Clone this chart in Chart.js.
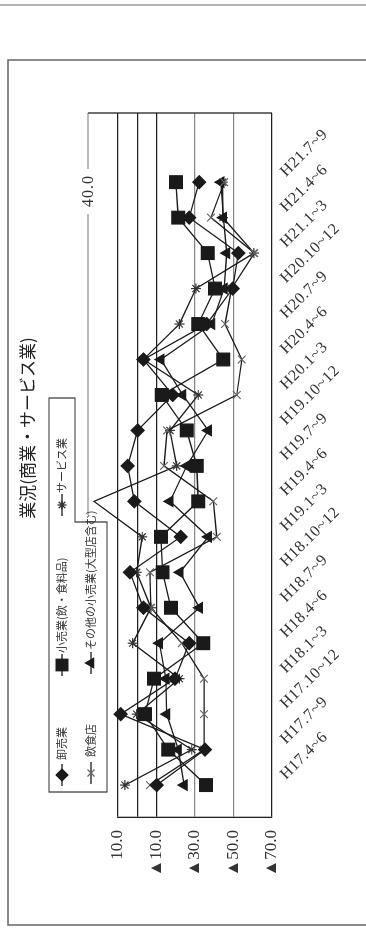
<!DOCTYPE html>
<html>
<head>
<meta charset="utf-8">
<script src="https://cdn.jsdelivr.net/npm/chart.js@4.4.1/dist/chart.umd.min.js"></script>
<style>
html, body { margin: 0; padding: 0; background: #fff; overflow: hidden; }
#wrap {
    position: absolute; left: 0; top: 0;
    width: 928px; height: 366px;
    transform-origin: 0 0;
    transform: translate(0, 928px) rotate(-90deg);
}
</style>
</head>
<body>
<div id="wrap"><canvas id="chart" width="928" height="366"></canvas></div>
<script>
// quarters (Heisei year.month range)
const quarters = ['H17.4~6', 'H17.7~9', 'H17.10~12', 'H18.1~3', 'H18.4~6', 'H18.7~9',
    'H18.10~12', 'H19.1~3', 'H19.4~6', 'H19.7~9', 'H19.10~12', 'H20.1~3',
    'H20.4~6', 'H20.7~9', 'H20.10~12', 'H21.1~3', 'H21.4~6', 'H21.7~9'];

// DI values per series
const wholesale   = [-10.1, -35.2, 8.6, -19.6, -27.0, -3.2, 3.8, -22.6, 1.5, 5.0, -0.2, -18.4, -3.2, -36.1, -49.6, -52.5, -27.0, -32.2];
const foodRetail  = [-35.7, -16.1, -4.0, -8.7, -34.3, -17.5, -13.2, -12.3, -31.7, -30.9, -25.7, -12.7, -44.7, -31.7, -40.4, -36.6, -21.3, -20.1];
const restaurants = [-6.6, -34.7, -34.7, -34.7, -23.1, -7.1, -6.6, -41.3, -39.5, -13.9, -15.5, -51.7, -54.3, -45.6, -49.0, -60.8, -38.3, -45.2];
const otherRetail = [-24.3, -21.3, -15.3, -14.9, -11.5, -32.3, -22.2, -36.9, -17.0, -25.7, -36.9, -23.6, -12.3, -38.7, -45.1, -46.5, -44.7, -43.5];
const services    = [6.4, -28.3, 0.3, -21.9, 2.4, -7.1, 0.3, -2.6, 22.5, -20.5, -17.0, -31.7, -3.2, -21.9, -30.5, -60.6, -44.5, -44.4];

const yTicks = [10, 0, -10, -30, -50, -70];

const SERIF = '"Liberation Serif", "DejaVu Serif", serif';
const JP = '"Noto Sans CJK JP", sans-serif';

function makeSet(label, values, style, radius, color) {
    return {
        label: label,
        data: values.map((v, i) => ({ x: i, y: v })),
        borderColor: '#1a1a1a',
        borderWidth: 1.3,
        pointStyle: style,
        pointRadius: radius,
        pointBackgroundColor: color,
        pointBorderColor: color,
        pointBorderWidth: 1.2,
        clip: false,
        tension: 0
    };
}

const datasets = [
    makeSet('卸売業', wholesale, 'rectRot', 6.5, '#1a1a1a'),
    makeSet('小売業(飲・食料品)', foodRetail, 'rect', 9, '#1a1a1a'),
    makeSet('飲食店', restaurants, 'crossRot', 5.5, '#666'),
    makeSet('その他の小売業(大型店含む)', otherRetail, 'triangle', 6, '#1a1a1a'),
    makeSet('サービス業', services, 'star', 5, '#333')
];

// legend layout: [dataset index, marker x, row y, text x]
const legendItems = [[0, 153, 62, 168], [1, 263, 62, 275], [4, 423, 62, 435],
    [2, 155, 91, 171], [3, 265, 91, 278]];

function pt(ctx, style, r, x, y) {
    if (Chart.helpers && Chart.helpers.drawPoint) {
        Chart.helpers.drawPoint(ctx, { pointStyle: style, radius: r, rotation: 0, borderWidth: 1.2 }, x, y);
    }
}

const decor = {
    id: 'decor',
    beforeDatasetsDraw(chart) {
        const ctx = chart.ctx, ca = chart.chartArea;
        ctx.save();
        // outer frame
        ctx.strokeStyle = '#666';
        ctx.lineWidth = 1.5;
        ctx.beginPath();
        ctx.moveTo(3, 366); ctx.lineTo(3, 8); ctx.lineTo(868, 8); ctx.lineTo(868, 366);
        ctx.stroke();
        ctx.strokeStyle = '#999';
        ctx.beginPath(); ctx.moveTo(923, 0); ctx.lineTo(923, 366); ctx.stroke();

        // right edge of plot box + the stray 40.0 line
        const topY = ca.top - 30;
        ctx.strokeStyle = '#222';
        ctx.lineWidth = 1.3;
        ctx.beginPath();
        ctx.moveTo(ca.right, ca.bottom); ctx.lineTo(ca.right, topY);
        ctx.stroke();
        ctx.strokeStyle = '#777';
        ctx.lineWidth = 1.2;
        ctx.beginPath();
        ctx.moveTo(ca.right, topY); ctx.lineTo(ca.right - 56, topY);
        ctx.moveTo(ca.right - 101, topY); ctx.lineTo(ca.left + 302, topY);
        ctx.stroke();
        ctx.fillStyle = '#333';
        ctx.font = '16px ' + SERIF;
        ctx.letterSpacing = '1px';
        ctx.textAlign = 'center';
        ctx.textBaseline = 'middle';
        ctx.fillText('40.0', ca.right - 78, topY + 1);
        ctx.restore();
    },
    afterDraw(chart) {
        const ctx = chart.ctx, ca = chart.chartArea, xs = chart.scales.x;
        ctx.save();
        // category labels, slanted down-right
        ctx.fillStyle = '#333';
        ctx.font = '16px ' + SERIF;
        ctx.letterSpacing = '0.5px';
        ctx.textAlign = 'left';
        ctx.textBaseline = 'middle';
        quarters.forEach((q, i) => {
            ctx.save();
            ctx.translate(xs.getPixelForValue(i) + 8, ca.bottom + 11);
            ctx.rotate(Math.PI / 4);
            ctx.fillText(q, 0, 0);
            ctx.restore();
        });
        ctx.letterSpacing = '0px';

        // title
        ctx.font = '17px ' + JP;
        ctx.textAlign = 'center';
        ctx.fillStyle = '#222';
        ctx.fillText('業況(商業・サービス業)', 500, 28);

        // legend box
        ctx.strokeStyle = '#333';
        ctx.lineWidth = 1.2;
        ctx.beginPath();
        ctx.moveTo(136, 49); ctx.lineTo(530, 49); ctx.lineTo(530, 75);
        ctx.lineTo(406, 75); ctx.lineTo(406, 107); ctx.lineTo(136, 107);
        ctx.closePath();
        ctx.stroke();

        legendItems.forEach(([di, mx, my, tx]) => {
            const ds = chart.data.datasets[di];
            ctx.strokeStyle = ds.borderColor;
            ctx.lineWidth = 1.3;
            ctx.beginPath(); ctx.moveTo(mx - 11, my); ctx.lineTo(mx + 11, my); ctx.stroke();
            ctx.fillStyle = ds.pointBackgroundColor;
            ctx.strokeStyle = ds.pointBorderColor;
            pt(ctx, ds.pointStyle, ds.pointRadius * 0.9, mx, my);
            ctx.fillStyle = '#333';
            ctx.font = '11px ' + JP;
            ctx.textAlign = 'left';
            ctx.fillText(ds.label, tx, my);
        });
        ctx.restore();
    }
};

new Chart(document.getElementById('chart'), {
    type: 'line',
    data: { datasets: datasets },
    options: {
        responsive: false,
        animation: false,
        layout: { padding: { left: 0, right: 113, top: 118, bottom: 0 } },
        plugins: { legend: { display: false }, tooltip: { enabled: false } },
        scales: {
            x: {
                type: 'linear',
                min: -0.9,
                max: 18.95,
                ticks: { display: false },
                grid: { display: false },
                border: { display: false },
                afterFit: s => { s.height = 94; }
            },
            y: {
                min: -70,
                max: 10,
                afterBuildTicks: s => { s.ticks = yTicks.map(v => ({ value: v })); },
                ticks: {
                    padding: 13,
                    color: '#333',
                    font: { family: SERIF, size: 17 },
                    callback: v => v === 0 ? '' : (v < 0 ? '▲' : '') + Math.abs(v).toFixed(1)
                },
                grid: {
                    drawTicks: false,
                    lineWidth: 1.2,
                    color: c => (c.tick && (c.tick.value === -30 || c.tick.value === -50)) ? '#888' : '#222'
                },
                border: { color: '#222', width: 1.3 },
                afterFit: s => { s.width = 111; }
            }
        }
    },
    plugins: [decor]
});
</script>
</body>
</html>
